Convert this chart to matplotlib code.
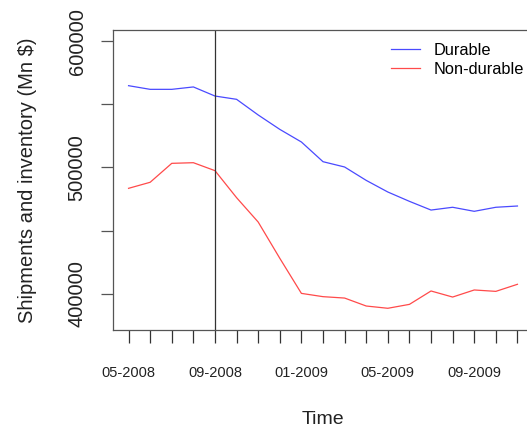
import matplotlib
matplotlib.use("Agg")
import matplotlib.pyplot as plt

# monthly values, 05-2008 .. 11-2009
months = ['05-2008', '06-2008', '07-2008', '08-2008', '09-2008', '10-2008',
          '11-2008', '12-2008', '01-2009', '02-2009', '03-2009', '04-2009',
          '05-2009', '06-2009', '07-2009', '08-2009', '09-2009', '10-2009',
          '11-2009']
durable = [564700, 561800, 561800, 563700, 556500, 553900, 541500, 530100,
           520100, 504500, 500300, 489700, 480500, 473100, 466200, 468400,
           465200, 468400, 469400]
non_durable = [483400, 488200, 503200, 503700, 497400, 476000, 456700, 428000,
               400200, 397600, 396500, 390200, 388400, 391500, 402100, 397300,
               402900, 401800, 407400]
event_month = '09-2008'
y_ticks = [400000, 450000, 500000, 550000, 600000]
y_labels = ['400000', '', '500000', '', '600000']

plt.rcParams['font.family'] = ['Liberation Sans', 'DejaVu Sans']

fig = plt.figure(figsize=(5.27, 4.33), dpi=100)
ax = fig.add_axes([113 / 527, 1 - 330 / 433, 420 / 527, 300 / 433])

x = list(range(len(months)))
ax.plot(x, durable, color='#4a4aff', lw=0.9, label='Durable')
ax.plot(x, non_durable, color='#ff4a4a', lw=0.9, label='Non-durable')
ax.axvline(months.index(event_month), color='#333333', lw=0.9)

# R style limits: 4% padding round 0..18 and 380000..600000
ax.set_xlim(-0.72, 18.72)
ax.set_ylim(371200, 608800)

ax.set_xticks(x)
ax.set_xticklabels([m if i % 4 == 0 else '' for i, m in enumerate(months)])
ax.set_yticks(y_ticks)
ax.set_yticklabels(y_labels)
ax.tick_params(axis='x', length=9, width=0.9, color='#333333', pad=17,
               labelsize=10.5, labelcolor='#222222')
ax.tick_params(axis='y', length=9, width=0.9, color='#555555', pad=10,
               labelsize=14.5, labelcolor='#222222')
plt.setp(ax.get_yticklabels(), rotation=90, va='center')

for s in ax.spines.values():
    s.set_color('#555555')
    s.set_linewidth(0.9)

ax.set_xlabel('Time', fontsize=14, color='#222222')
ax.xaxis.set_label_coords(0.5, -0.27)
ax.set_ylabel('Shipments and inventory (Mn $)', fontsize=14.5, color='#222222')
ax.yaxis.set_label_coords(-0.18, 0.5)

ax.legend(loc='upper left', bbox_to_anchor=(0.663, 0.958), frameon=False,
          fontsize=11.8, handlelength=1.75, handletextpad=0.85,
          labelspacing=0.25, borderpad=0, borderaxespad=0)

fig.savefig('out.png', dpi=100)
